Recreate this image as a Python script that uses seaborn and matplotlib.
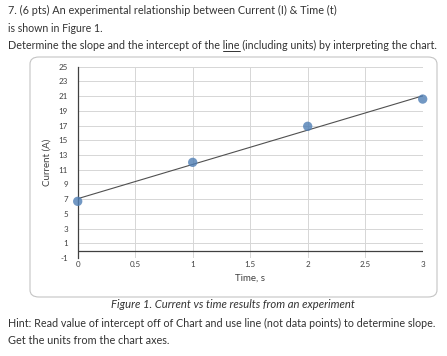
import matplotlib
matplotlib.use("Agg")
import matplotlib.pyplot as plt
import seaborn as sns
import pandas as pd
import numpy as np
from matplotlib.patches import FancyBboxPatch
from matplotlib.lines import Line2D

time_s = [0, 1, 2, 3]
current_a = [6.7, 12.0, 16.9, 20.6]
x_ticks = [0, 0.5, 1, 1.5, 2, 2.5, 3]
x_tick_labels = ["0", "0.5", "1", "1.5", "2", "2.5", "3"]
y_ticks = list(range(-1, 26, 2))

df = pd.DataFrame({"Time": time_s, "Current": current_a})

sns.set_theme(style="white")
plt.rcParams['font.family'] = ['Lato', 'DejaVu Sans']
plt.rcParams['axes.unicode_minus'] = False

W, H = 447, 356
fig = plt.figure(figsize=(W / 100, H / 100), dpi=100)

# Outer rounded chart frame
frame = FancyBboxPatch((30 / W, 1 - 297 / H), (437 - 30) / W, (297 - 57) / H,
                       boxstyle="round,pad=0,rounding_size=0.02",
                       transform=fig.transFigure, fill=False,
                       edgecolor="#c4c4c4", linewidth=0.8)
fig.patches.append(frame)

ax = fig.add_axes([77.7 / W, 1 - 258 / H, (422.7 - 77.7) / W, (258 - 66.7) / H])

ax.set_xlim(0, 3)
ax.set_ylim(-1, 25)
ax.set_xticks(x_ticks)
ax.set_xticklabels(x_tick_labels)
ax.set_yticks(y_ticks)
ax.grid(True, color="#d6d6d6", linewidth=0.7)
ax.set_axisbelow(True)
for s in ["top", "right", "bottom"]:
    ax.spines[s].set_visible(False)
ax.spines["left"].set_color("#404040")
ax.spines["left"].set_linewidth(0.9)
ax.axhline(0, color="#404040", linewidth=0.9, zorder=1)

sns.regplot(data=df, x="Time", y="Current", ax=ax, ci=None, truncate=True,
            scatter_kws=dict(s=45, color="#4f7eb5", edgecolors="none", zorder=3, clip_on=False),
            line_kws=dict(color="#505050", linewidth=0.8, zorder=2))

ax.tick_params(axis="both", labelsize=5.8, colors="#404040", length=0)
ax.tick_params(axis="y", pad=7)
ax.tick_params(axis="x", pad=2)
ax.set_xlabel("Time, s", fontsize=7, color="#404040", labelpad=4)
ax.set_ylabel("Current (A)", fontsize=7, color="#404040", labelpad=5)

renderer = fig.canvas.get_renderer()


def fit_text(x, y, s, target_w, ha="left", **kw):
    t = fig.text(x / W, 1 - y / H, s, fontsize=9, va="center", ha=ha, color="#333333", **kw)
    w = t.get_window_extent(renderer).width
    t.set_fontsize(9 * target_w / w)
    return t


def text_width(s, size):
    t = fig.text(0, 0, s, fontsize=size)
    w = t.get_window_extent(renderer).width
    t.remove()
    return w


fit_text(8, 10, "7. (6 pts) An experimental relationship between Current (I) & Time (t)", 328)
fit_text(8, 28, "is shown in Figure 1.", 95)
det = fit_text(8, 45, "Determine the slope and the intercept of the line (including units) by interpreting the chart.", 429)
fsz = det.get_fontsize()
x0 = 8 + text_width("Determine the slope and the intercept of the ", fsz)
x1 = x0 + text_width("line", fsz)
fig.add_artist(Line2D([x0 / W, x1 / W], [1 - 51 / H, 1 - 51 / H], transform=fig.transFigure,
                      color="#333333", linewidth=0.7))
fit_text(233, 305, "Figure 1. Current vs time results from an experiment", 244, ha="center", style="italic")
fit_text(8, 323, "Hint: Read value of intercept off of Chart and use line (not data points) to determine slope.", 427)
fit_text(8, 341, "Get the units from the chart axes.", 162)

fig.savefig("out.png", dpi=100)
